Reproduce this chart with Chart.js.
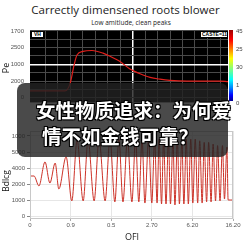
<!DOCTYPE html>
<html><head><meta charset="utf-8">
<script src="https://cdn.jsdelivr.net/npm/chart.js@4"></script>
<style>
html,body{margin:0;padding:0;background:#fff;width:243px;height:243px;overflow:hidden;font-family:"Open Sans",sans-serif;}
.abs{position:absolute;}
.cbl{position:absolute;left:236px;font:6px "Liberation Sans",sans-serif;color:#444;line-height:6px;}
.cn{position:absolute;font:bold 19.5px "Noto Sans CJK SC",sans-serif;color:#fff;line-height:20px;white-space:nowrap;
 text-shadow:-1px -1px 0 #000,1px -1px 0 #000,-1px 1px 0 #000,1px 1px 0 #000,0 0 2px #000;}
</style></head><body>
<script>
// ---- top panel (Pe) ----
const topYLabels = ['0','2000','1000','2500','1700'];
const topX = [-1.2, 1.6, 2.0, 2.32, 2.56, 3.04, 3.76, 4.64, 5.6, 6.0, 6.8, 7.6, 8.4, 9.2, 10.0, 11.36, 14.0, 14.64];
const topY = [0.41, 0.41, 0.83, 1.94, 2.56, 2.78, 2.83, 2.67, 2.33, 2.17, 1.72, 1.44, 1.22, 1.11, 1.04, 1.0, 1.0, 0.96];
const colorbarLabels = ['45','25','30','1','0'];
// ---- bottom panel (Bdlcg) ----
const bottomXLabels = ['0','0.9','0.5','2.70','6.20','16.20'];
const bottomYLabels = ['0','1000','2000','4000','5000','1000'];
const waveX = [0,0.10,0.22,0.37,0.49,0.62,0.71,0.89,1.03,1.16,1.31,1.43,1.58,1.70,1.85,1.97,2.09,2.19,2.29,2.40,2.51,2.60,2.68,2.76,2.83,2.92,3.00,3.07,3.13,3.18,3.24,3.29,3.35,3.41,3.46,3.52,3.57,3.63,3.68,3.74,3.79,3.85,3.90,3.96,4.01,4.07,4.13,4.18,4.24,4.29,4.35,4.40,4.46,4.51,4.57,4.62,4.68,4.74,4.79,4.85,4.88,4.93,5.0];
const waveY = [2.5,2.5,1.88,3.38,2.06,3.31,1.69,3.69,0.94,4.75,0.94,4.75,0.94,4.8,0.94,4.8,0.88,4.8,0.88,4.8,0.88,4.8,0.88,4.8,0.81,4.8,0.81,4.8,0.81,4.8,0.75,4.8,0.75,4.8,0.75,4.8,0.69,4.8,0.75,4.8,0.75,4.8,0.75,4.8,0.81,4.8,0.81,4.7,0.81,4.6,0.88,4.6,0.88,4.5,0.94,4.4,0.94,4.4,1.06,4.31,1.0,1.0,1.0];
</script>
<div class="abs" style="left:0;width:251px;top:2px;text-align:center;font-size:11.5px;color:#222;line-height:16px;">Carrectly dimensened roots blower</div>
<div class="abs" style="left:0;width:262px;top:19px;text-align:center;font:6.5px 'Open Sans',sans-serif;color:#222;line-height:8px;">Low amitlude, clean peaks</div>
<div class="abs" style="left:0;top:0;width:243px;height:112px;"><canvas id="c1"></canvas></div>
<div class="abs" style="left:0;top:120px;width:243px;height:123px;"><canvas id="c2"></canvas></div>
<div class="abs" style="left:229px;top:30px;width:4px;height:71px;background:linear-gradient(to bottom,#a00000 0%,#ff0000 14%,#ff8000 27%,#ffff00 40%,#80ff80 55%,#00ffff 70%,#0080ff 82%,#0000ff 92%,#000090 100%);"></div>
<div id="cb"></div>
<div class="abs" style="left:31px;top:31px;background:#fff;border:0.5px solid #000;font:bold 5px 'Liberation Sans',sans-serif;line-height:5px;padding:0 2px;color:#000;">VH</div>
<div class="abs" style="left:200px;top:31px;width:24px;background:#fff;border:0.5px solid #000;font:bold 5px 'Liberation Sans',sans-serif;line-height:5px;padding:0 1px;color:#000;text-align:right;">CASTE=11</div>
<div class="abs" style="left:0px;top:62px;width:12px;height:12px;"><div style="transform:rotate(-90deg);transform-origin:center;font:9px 'Open Sans',sans-serif;color:#111;text-align:center;width:12px;line-height:12px;">Pe</div></div>
<div class="abs" style="left:-14px;top:175px;width:40px;height:12px;transform:rotate(-90deg);font:8.5px 'Open Sans',sans-serif;color:#111;text-align:center;line-height:12px;">Bdlcg</div>
<div class="abs" style="left:112px;width:40px;top:231px;text-align:center;font:9px 'Open Sans',sans-serif;color:#222;line-height:12px;">OFI</div>
<div class="abs" style="left:17px;top:83px;width:211px;height:74px;border-radius:8px;background:rgba(34,34,34,0.82);"></div>
<div class="cn" style="left:36px;top:100px;">女性物质追求：为何爱</div>
<div class="cn" style="left:42px;top:126px;">情不如金钱可靠？</div>
<script>
const cb = document.getElementById('cb');
colorbarLabels.forEach((t,i)=>{
  const d=document.createElement('div'); d.className='cbl'; d.style.top=(28+i*18)+'px'; d.textContent=t; cb.appendChild(d);
});
const bgPlugin = {
  id:'bg',
  beforeDraw(chart, args, opts){
    const a=chart.chartArea, c=chart.ctx;
    c.save(); c.fillStyle=opts.color; c.fillRect(a.left,a.top,a.right-a.left,a.bottom-a.top); c.restore();
  },
  afterDraw(chart, args, opts){
    if(!opts.border) return;
    const a=chart.chartArea, c=chart.ctx;
    c.save(); c.strokeStyle=opts.border; c.lineWidth=1; c.strokeRect(a.left+0.5,a.top+0.5,a.right-a.left-1,a.bottom-a.top-1); c.restore();
  }
};
const tickFont = {family:'Liberation Sans', size:6};
new Chart(document.getElementById('c1'), {
  type:'line',
  data:{datasets:[{data:topX.map((x,i)=>({x, y:topY[i]})), borderColor:'#e0201c', borderWidth:1.2, pointRadius:0, cubicInterpolationMode:'monotone', fill:false}]},
  options:{
    responsive:true, maintainAspectRatio:false, animation:false,
    layout:{padding:{top:30,right:15,left:0,bottom:0}},
    plugins:{legend:{display:false}, tooltip:{enabled:false}, bg:{color:'#000'}},
    scales:{
      x:{type:'linear', min:-1.2, max:14.64,
         afterBuildTicks:s=>{s.ticks=[];for(let v=0;v<=14;v++)s.ticks.push({value:v});},
         afterFit:s=>{s.height=4;},
         ticks:{display:false},
         grid:{drawTicks:false, color:c=>c.tick&&c.tick.value===7?'#fff':'#4a4a4a', lineWidth:c=>c.tick&&c.tick.value===7?1.5:1},
         border:{display:false}},
      y:{type:'linear', min:-0.278, max:4.056,
         afterBuildTicks:s=>{s.ticks=[];for(let v=0;v<=8;v++)s.ticks.push({value:v/2});},
         afterFit:s=>{s.width=30;},
         ticks:{padding:6, color:'#555', font:tickFont, callback:v=>Number.isInteger(v)?topYLabels[v]:''},
         grid:{drawTicks:false, color:c=>c.tick&&c.tick.value===2?'#fff':'#4a4a4a', lineWidth:c=>c.tick&&c.tick.value===2?1.5:1},
         border:{display:false}}
    }
  },
  plugins:[bgPlugin]
});
new Chart(document.getElementById('c2'), {
  type:'line',
  data:{datasets:[{data:waveX.map((x,i)=>({x, y:waveY[i]})), borderColor:'rgb(205,50,40)', borderWidth:1, pointRadius:0, cubicInterpolationMode:'monotone', fill:false}]},
  options:{
    responsive:true, maintainAspectRatio:false, animation:false,
    layout:{padding:{top:11,right:10,left:0,bottom:0}},
    plugins:{legend:{display:false}, tooltip:{enabled:false}, bg:{color:'#fff', border:'#c8c8c8'}},
    scales:{
      x:{type:'linear', min:0, max:5,
         afterBuildTicks:s=>{s.ticks=[];for(let v=0;v<=5;v++)s.ticks.push({value:v});},
         afterFit:s=>{s.height=24;},
         ticks:{padding:1, color:'#555', font:tickFont, maxRotation:0, callback:v=>bottomXLabels[v]},
         grid:{color:'#e6e6e6', tickLength:2, tickColor:'#aaa'},
         border:{display:false}},
      y:{type:'linear', min:-0.1875, max:5.3125,
         afterBuildTicks:s=>{s.ticks=[];for(let v=0;v<=5;v++)s.ticks.push({value:v});},
         afterFit:s=>{s.width=30;},
         ticks:{padding:2, color:'#555', font:tickFont, callback:v=>bottomYLabels[v]},
         grid:{color:'#e6e6e6', tickLength:3, tickColor:'#888'},
         border:{display:false}}
    }
  },
  plugins:[bgPlugin]
});
</script>
</body></html>
